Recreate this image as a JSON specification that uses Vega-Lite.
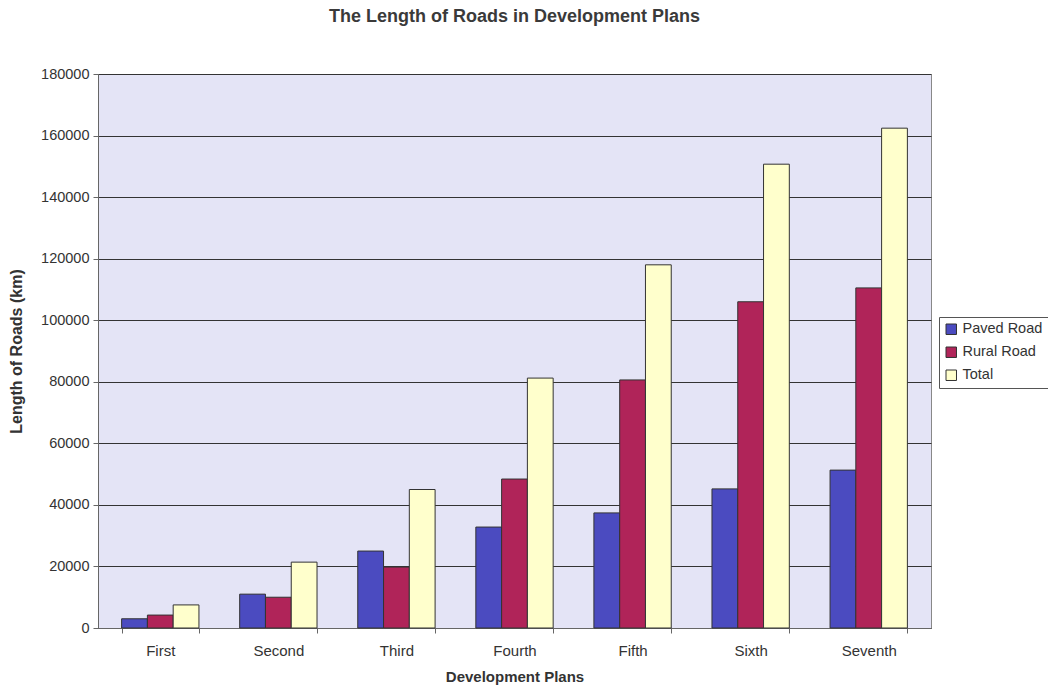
{
  "$schema": "https://vega.github.io/schema/vega-lite/v6.json",
  "width": 833,
  "height": 554,
  "autosize": {"type": "none"},
  "padding": {"left": 98, "top": 74, "right": 117, "bottom": 60},
  "background": "white",
  "title": {
    "text": "The Length of Roads in Development Plans",
    "font": "Liberation Sans",
    "fontSize": 18,
    "fontWeight": "bold",
    "color": "#3a3a3a",
    "anchor": "middle",
    "offset": 40
  },
  "config": {
    "view": {"fill": "#e4e4f6", "stroke": "#888888", "strokeWidth": 1},
    "font": "Liberation Sans"
  },
  "data": {
    "values": [
      {"plan": "First", "series": "Paved Road", "km": 3000},
      {"plan": "First", "series": "Rural Road", "km": 4200},
      {"plan": "First", "series": "Total", "km": 7500},
      {"plan": "Second", "series": "Paved Road", "km": 11000},
      {"plan": "Second", "series": "Rural Road", "km": 10000},
      {"plan": "Second", "series": "Total", "km": 21400},
      {"plan": "Third", "series": "Paved Road", "km": 25000},
      {"plan": "Third", "series": "Rural Road", "km": 19800},
      {"plan": "Third", "series": "Total", "km": 45000},
      {"plan": "Fourth", "series": "Paved Road", "km": 32800},
      {"plan": "Fourth", "series": "Rural Road", "km": 48400},
      {"plan": "Fourth", "series": "Total", "km": 81200},
      {"plan": "Fifth", "series": "Paved Road", "km": 37400},
      {"plan": "Fifth", "series": "Rural Road", "km": 80600},
      {"plan": "Fifth", "series": "Total", "km": 118000},
      {"plan": "Sixth", "series": "Paved Road", "km": 45200},
      {"plan": "Sixth", "series": "Rural Road", "km": 106000},
      {"plan": "Sixth", "series": "Total", "km": 150700},
      {"plan": "Seventh", "series": "Paved Road", "km": 51300},
      {"plan": "Seventh", "series": "Rural Road", "km": 110500},
      {"plan": "Seventh", "series": "Total", "km": 162400}
    ]
  },
  "mark": {"type": "bar", "stroke": "#333333", "strokeWidth": 1},
  "encoding": {
    "x": {
      "field": "plan",
      "type": "nominal",
      "sort": ["First", "Second", "Third", "Fourth", "Fifth", "Sixth", "Seventh"],
      "scale": {"paddingInner": 0.345, "paddingOuter": 0.2},
      "axis": {
        "title": "Development Plans",
        "titleFont": "Liberation Sans",
        "titleFontSize": 15,
        "titleFontWeight": "bold",
        "titleColor": "#333333",
        "titlePadding": 11,
        "labelAngle": 0,
        "labelFont": "Liberation Sans",
        "labelFontSize": 15,
        "labelColor": "#333333",
        "labelPadding": 10,
        "tickBand": "extent",
        "tickColor": "#666666",
        "tickSize": 5,
        "domainColor": "#666666",
        "grid": false
      }
    },
    "xOffset": {
      "field": "series",
      "type": "nominal",
      "sort": ["Paved Road", "Rural Road", "Total"],
      "scale": {"paddingInner": 0, "paddingOuter": 0}
    },
    "y": {
      "field": "km",
      "type": "quantitative",
      "scale": {"domain": [0, 180000], "nice": false},
      "axis": {
        "title": "Length of Roads (km)",
        "titleFont": "Liberation Sans",
        "titleFontSize": 16,
        "titleFontWeight": "bold",
        "titleColor": "#333333",
        "titlePadding": 16,
        "values": [0, 20000, 40000, 60000, 80000, 100000, 120000, 140000, 160000, 180000],
        "format": "d",
        "labelFont": "Liberation Sans",
        "labelFontSize": 14.5,
        "labelColor": "#333333",
        "labelPadding": 4,
        "tickColor": "#666666",
        "tickSize": 5,
        "domainColor": "#666666",
        "grid": true,
        "gridColor": "#333333",
        "gridWidth": 1
      }
    },
    "color": {
      "field": "series",
      "type": "nominal",
      "sort": ["Paved Road", "Rural Road", "Total"],
      "scale": {
        "domain": ["Paved Road", "Rural Road", "Total"],
        "range": ["#4b4bc0", "#b02459", "#ffffcc"]
      },
      "legend": {
        "title": null,
        "orient": "none",
        "legendX": 841,
        "legendY": 243,
        "symbolType": "square",
        "symbolSize": 110,
        "symbolStrokeColor": "#333333",
        "symbolStrokeWidth": 1,
        "labelFont": "Liberation Sans",
        "labelFontSize": 14.5,
        "labelColor": "#333333",
        "labelOffset": 4,
        "rowPadding": 7,
        "padding": 5,
        "strokeColor": "#555555",
        "fillColor": "white"
      }
    }
  }
}
